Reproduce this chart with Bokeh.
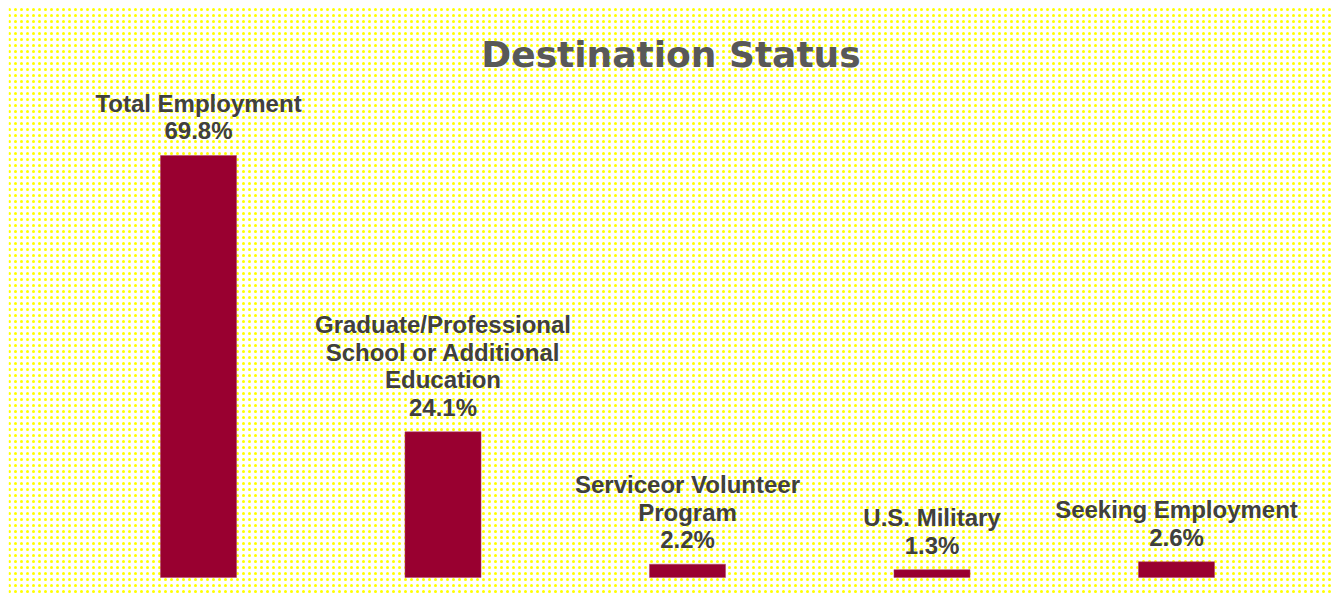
from bokeh.plotting import figure
from bokeh.models import BoxAnnotation, Label, Range1d, ColumnDataSource
from bokeh.core.properties import value
from bokeh.embed import file_html
from bokeh.resources import INLINE

categories = ["Total Employment", "Graduate/Professional\nSchool or Additional\nEducation",
              "Serviceor Volunteer\nProgram", "U.S. Military", "Seeking Employment"]
values = [69.8, 24.1, 2.2, 1.3, 2.6]
pct_labels = ["69.8%", "24.1%", "2.2%", "1.3%", "2.6%"]

W, H = 1332, 594
LEFT, TOP = 8, 7
xs = list(range(len(categories)))
labels = [c + "\n" + p for c, p in zip(categories, pct_labels)]

src = ColumnDataSource(dict(x=xs, top=values, label=labels))

x0 = -(198 - LEFT) / 244.5
p = figure(width=W, height=H, output_backend="svg", toolbar_location=None,
           x_range=Range1d(x0, x0 + (W - LEFT) / 244.5),
           y_range=Range1d(-(H - 577) / 6.046, (577 - TOP) / 6.046),
           min_border=0, min_border_left=LEFT, min_border_top=TOP,
           outline_line_color=None)
p.axis.visible = False
p.grid.visible = False
p.background_fill_color = "white"
p.border_fill_color = "white"

bg = BoxAnnotation(fill_alpha=0, line_alpha=0, hatch_pattern="dot", hatch_color="#FFFF00",
                   hatch_scale=6, hatch_alpha=1.0, hatch_weight=1, level="underlay")
p.add_layout(bg)

p.vbar(x="x", top="top", bottom=0, width=0.311, source=src,
       fill_color="#990030", line_color="#b04060", line_width=0.5)

p.text(x="x", y="top", text="label", source=src, text_align="center",
       text_baseline="bottom", y_offset=-11, text_font=value("Liberation Sans"),
       text_font_style="bold", text_font_size="24px", text_color="#404040",
       text_line_height=1.02)

title = Label(x=670.5 - LEFT, y=H - 54, x_units="screen", y_units="screen", text="Destination Status",
              text_align="center", text_baseline="middle", text_font="DejaVu Sans",
              text_font_style="bold", text_font_size="36px", text_color="#595959")
p.add_layout(title)

open("out.html", "w").write(file_html(p, INLINE))
